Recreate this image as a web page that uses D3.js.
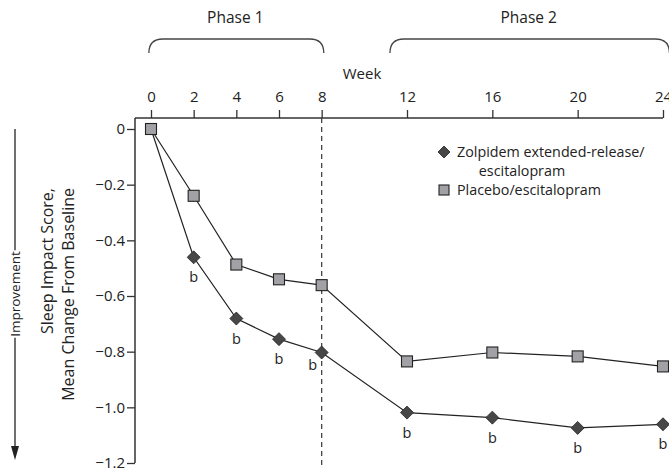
<!DOCTYPE html>
<html><head><meta charset="utf-8">
<script src="https://cdn.jsdelivr.net/npm/d3@7"></script>
<style>
html,body{margin:0;padding:0;background:#fff;}
svg{display:block;font-family:"Open Sans",sans-serif;}
</style></head>
<body>
<svg id="chart" width="669" height="470"></svg>
<script>
const weeks = [0, 2, 4, 6, 8, 12, 16, 20, 24];
const zolpidem = [0, -0.461, -0.681, -0.755, -0.803, -1.019, -1.037, -1.074, -1.061];
const placebo  = [0, -0.240, -0.487, -0.540, -0.561, -0.835, -0.803, -0.817, -0.853];
const sigMarks = ["", "b", "b", "b", "b", "b", "b", "b", "b"];
const yTicks = [0, -0.2, -0.4, -0.6, -0.8, -1.0, -1.2];
const seriesNames = ["Zolpidem extended-release/", "escitalopram", "Placebo/escitalopram"];
const phaseNames = ["Phase 1", "Phase 2"];
const phaseStart = [-0.1, 11.2];
const phaseEnd = [8.1, 24.3];
const cutWeek = 8;

const svg = d3.select("#chart");
const x = d3.scaleLinear().domain([0, 24]).range([151, 663]);
const y = d3.scaleLinear().domain([0, -1.2]).range([129, 463]);
const axisColor = "#333";
const txt = "#222";
const fmt = v => v === 0 ? "0" : d3.format(".1f")(v).replace("-", "\u2212");

// top x axis
const xAxis = svg.append("g").attr("transform", "translate(0,118)")
  .call(d3.axisTop(x).tickValues(weeks).tickSize(8).tickPadding(8).tickFormat(d3.format("d")));
xAxis.select(".domain").remove();
xAxis.selectAll("line").attr("stroke", axisColor).attr("stroke-width", 1.3);
xAxis.selectAll("text").attr("font-size", 15).attr("fill", txt).attr("font-family", "Open Sans");
svg.append("line").attr("x1", 135).attr("x2", x(24)).attr("y1", 118).attr("y2", 118)
  .attr("stroke", axisColor).attr("stroke-width", 1.5);

// left y axis
const yAxis = svg.append("g").attr("transform", "translate(135,0)")
  .call(d3.axisLeft(y).tickValues(yTicks).tickSize(8).tickPadding(2).tickFormat(fmt));
yAxis.select(".domain").remove();
yAxis.selectAll("line").attr("stroke", axisColor).attr("stroke-width", 1.3);
yAxis.selectAll("text").attr("font-size", 15).attr("fill", txt).attr("font-family", "Open Sans");
svg.append("line").attr("x1", 135).attr("x2", 135).attr("y1", 118).attr("y2", y(-1.2))
  .attr("stroke", axisColor).attr("stroke-width", 1.5);

// Week label
svg.append("text").attr("x", 362).attr("y", 78.5).attr("text-anchor", "middle")
  .attr("font-size", 15).attr("fill", txt).text("Week");

// phase braces
phaseNames.forEach((name, i) => {
  const x0 = x(phaseStart[i]), x1 = x(phaseEnd[i]);
  const top = 39, bot = 53, r = 14;
  const p = d3.path();
  p.moveTo(x0, bot);
  p.quadraticCurveTo(x0, top, x0 + r, top);
  p.lineTo(x1 - r, top);
  p.quadraticCurveTo(x1, top, x1, bot);
  svg.append("path").attr("d", p.toString()).attr("fill", "none")
    .attr("stroke", "#444").attr("stroke-width", 1.3);
  svg.append("text").attr("x", (x0 + x1) / 2 - 1).attr("y", 22.5).attr("text-anchor", "middle")
    .attr("font-size", 15.5).attr("fill", txt).text(name);
});

// dashed week-8 line
svg.append("line").attr("x1", x(cutWeek)).attr("x2", x(cutWeek)).attr("y1", 118).attr("y2", 468)
  .attr("stroke", "#444").attr("stroke-width", 1.3).attr("stroke-dasharray", "5,4");

// y titles
svg.append("text").attr("transform", "translate(53,188) rotate(-90)").attr("text-anchor", "end")
  .attr("font-size", 16).attr("fill", txt).text("Sleep Impact Score,");
svg.append("text").attr("transform", "translate(74,188) rotate(-90)").attr("text-anchor", "end")
  .attr("font-size", 16).attr("fill", txt).text("Mean Change From Baseline");

// Improvement arrow
const impY = 294;
const imp = svg.append("text").attr("transform", `translate(19.5,${impY}) rotate(-90)`)
  .attr("text-anchor", "middle").attr("font-size", 13.5).attr("fill", txt).text("Improvement");
const half = imp.node().getComputedTextLength() / 2 + 1;
svg.append("line").attr("x1", 15).attr("x2", 15).attr("y1", 129).attr("y2", impY - half)
  .attr("stroke", txt).attr("stroke-width", 1.3);
svg.append("line").attr("x1", 15).attr("x2", 15).attr("y1", impY + half).attr("y2", 452)
  .attr("stroke", txt).attr("stroke-width", 1.3);
svg.append("path").attr("d", "M11,446 L15,460 L19,446 Z").attr("fill", txt);

// lines
const line = d3.line().x((d, i) => x(weeks[i])).y(d => y(d));
svg.append("path").attr("d", line(placebo)).attr("fill", "none").attr("stroke", txt).attr("stroke-width", 1.2);
svg.append("path").attr("d", line(zolpidem)).attr("fill", "none").attr("stroke", txt).attr("stroke-width", 1.2);

// diamond markers
const diamond = (cx, cy, s) => `M${cx},${cy - s} L${cx + s},${cy} L${cx},${cy + s} L${cx - s},${cy} Z`;
zolpidem.forEach((v, i) => {
  if (i === 0) return;
  svg.append("path").attr("d", diamond(x(weeks[i]), y(v), 6.5))
    .attr("fill", "#474747").attr("stroke", txt).attr("stroke-width", 0.8);
});
// square markers
placebo.forEach((v, i) => {
  svg.append("rect").attr("x", x(weeks[i]) - 5.5).attr("y", y(v) - 5.5)
    .attr("width", 11).attr("height", 11)
    .attr("fill", "#a2a2a6").attr("stroke", txt).attr("stroke-width", 1.1);
});

// significance labels
zolpidem.forEach((v, i) => {
  if (!sigMarks[i]) return;
  const isCut = weeks[i] === cutWeek;
  svg.append("text").attr("x", x(weeks[i]) + (isCut ? -9 : 0)).attr("y", y(v) + (isCut ? 17 : 25))
    .attr("text-anchor", "middle").attr("font-size", 14.5).attr("fill", txt).text(sigMarks[i]);
});

// legend
svg.append("path").attr("d", diamond(444, 152, 6)).attr("fill", "#474747").attr("stroke", txt).attr("stroke-width", 0.8);
svg.append("text").attr("x", 457).attr("y", 157).attr("font-size", 14.3).attr("fill", txt).text(seriesNames[0]);
svg.append("text").attr("x", 522).attr("y", 176).attr("text-anchor", "middle").attr("font-size", 14.3).attr("fill", txt).text(seriesNames[1]);
svg.append("rect").attr("x", 439).attr("y", 185).attr("width", 10).attr("height", 10)
  .attr("fill", "#a2a2a6").attr("stroke", txt).attr("stroke-width", 1.1);
svg.append("text").attr("x", 457).attr("y", 195).attr("font-size", 14.3).attr("fill", txt).text(seriesNames[2]);
</script>
</body></html>
